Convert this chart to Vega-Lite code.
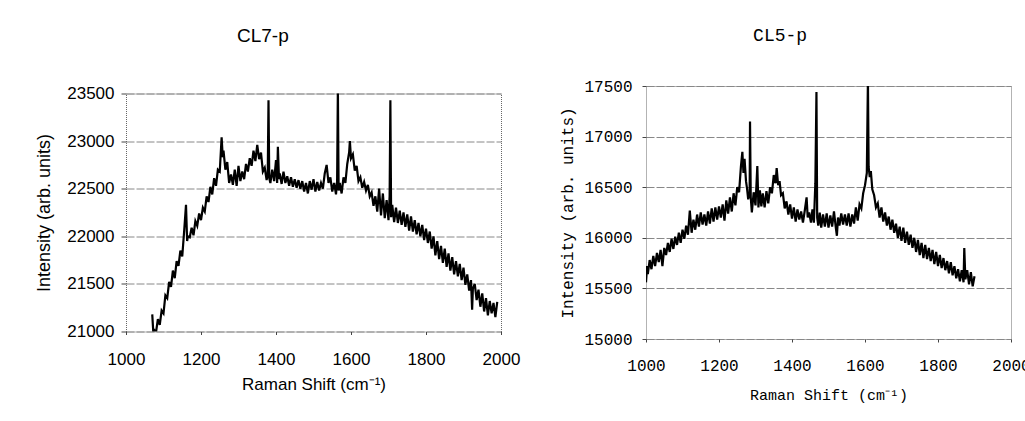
{
"$schema": "https://vega.github.io/schema/vega-lite/v6.json",
"background": "white",
"padding": {"left": 35, "top": 26, "right": 0, "bottom": 0},
"autosize": {"type": "pad"},
"columns": 2,
"align": "each",
"bounds": "flush",
"center": true,
"spacing": 145,
"config": {"view": {"stroke": "#666", "strokeDash": [1, 1], "strokeWidth": 1}},
"datasets": {
"L": [{"x":1070,"y":21180},{"x":1073,"y":20980},{"x":1076,"y":21010},{"x":1080,"y":20990},{"x":1085,"y":21130},{"x":1090,"y":21070},{"x":1095,"y":21220},{"x":1100,"y":21190},{"x":1105,"y":21380},{"x":1110,"y":21350},{"x":1115,"y":21520},{"x":1120,"y":21470},{"x":1125,"y":21640},{"x":1130,"y":21560},{"x":1135,"y":21740},{"x":1140,"y":21690},{"x":1145,"y":21850},{"x":1150,"y":21790},{"x":1155,"y":22050},{"x":1160,"y":22330},{"x":1163,"y":21950},{"x":1165,"y":22000},{"x":1170,"y":21990},{"x":1175,"y":22090},{"x":1180,"y":22010},{"x":1185,"y":22160},{"x":1190,"y":22110},{"x":1195,"y":22240},{"x":1200,"y":22170},{"x":1205,"y":22300},{"x":1210,"y":22260},{"x":1215,"y":22420},{"x":1220,"y":22360},{"x":1225,"y":22520},{"x":1230,"y":22440},{"x":1235,"y":22610},{"x":1240,"y":22530},{"x":1245,"y":22700},{"x":1250,"y":22680},{"x":1255,"y":23040},{"x":1258,"y":22830},{"x":1260,"y":22900},{"x":1265,"y":22700},{"x":1270,"y":22780},{"x":1275,"y":22560},{"x":1280,"y":22650},{"x":1285,"y":22540},{"x":1290,"y":22700},{"x":1295,"y":22530},{"x":1300,"y":22740},{"x":1305,"y":22580},{"x":1310,"y":22680},{"x":1315,"y":22600},{"x":1320,"y":22760},{"x":1325,"y":22680},{"x":1330,"y":22820},{"x":1335,"y":22740},{"x":1340,"y":22900},{"x":1345,"y":22790},{"x":1350,"y":22960},{"x":1355,"y":22810},{"x":1360,"y":22880},{"x":1365,"y":22680},{"x":1370,"y":22720},{"x":1375,"y":22590},{"x":1378,"y":22660},{"x":1380,"y":23430},{"x":1382,"y":22610},{"x":1385,"y":22560},{"x":1390,"y":22700},{"x":1395,"y":22580},{"x":1400,"y":22800},{"x":1403,"y":22560},{"x":1405,"y":22940},{"x":1408,"y":22600},{"x":1410,"y":22660},{"x":1415,"y":22550},{"x":1420,"y":22680},{"x":1425,"y":22560},{"x":1430,"y":22630},{"x":1435,"y":22530},{"x":1440,"y":22620},{"x":1445,"y":22520},{"x":1450,"y":22600},{"x":1455,"y":22510},{"x":1460,"y":22590},{"x":1465,"y":22500},{"x":1470,"y":22580},{"x":1475,"y":22470},{"x":1480,"y":22560},{"x":1485,"y":22450},{"x":1490,"y":22580},{"x":1495,"y":22490},{"x":1500,"y":22600},{"x":1505,"y":22470},{"x":1510,"y":22570},{"x":1515,"y":22480},{"x":1520,"y":22560},{"x":1525,"y":22500},{"x":1530,"y":22660},{"x":1535,"y":22750},{"x":1540,"y":22560},{"x":1545,"y":22620},{"x":1550,"y":22470},{"x":1555,"y":22560},{"x":1560,"y":22440},{"x":1563,"y":22580},{"x":1565,"y":23560},{"x":1567,"y":22480},{"x":1570,"y":22560},{"x":1575,"y":22450},{"x":1580,"y":22620},{"x":1585,"y":22560},{"x":1590,"y":22760},{"x":1595,"y":22880},{"x":1597,"y":23000},{"x":1600,"y":22820},{"x":1605,"y":22860},{"x":1610,"y":22690},{"x":1615,"y":22740},{"x":1620,"y":22580},{"x":1625,"y":22620},{"x":1630,"y":22510},{"x":1635,"y":22570},{"x":1640,"y":22480},{"x":1645,"y":22540},{"x":1650,"y":22420},{"x":1655,"y":22460},{"x":1660,"y":22320},{"x":1665,"y":22420},{"x":1670,"y":22260},{"x":1675,"y":22500},{"x":1680,"y":22220},{"x":1685,"y":22450},{"x":1690,"y":22190},{"x":1695,"y":22380},{"x":1700,"y":22170},{"x":1703,"y":22420},{"x":1705,"y":23430},{"x":1707,"y":22200},{"x":1710,"y":22330},{"x":1715,"y":22150},{"x":1720,"y":22300},{"x":1725,"y":22140},{"x":1730,"y":22270},{"x":1735,"y":22120},{"x":1740,"y":22250},{"x":1745,"y":22100},{"x":1750,"y":22230},{"x":1755,"y":22060},{"x":1760,"y":22210},{"x":1765,"y":22050},{"x":1770,"y":22170},{"x":1775,"y":22020},{"x":1780,"y":22140},{"x":1785,"y":22000},{"x":1790,"y":22120},{"x":1795,"y":21960},{"x":1800,"y":22080},{"x":1805,"y":21930},{"x":1810,"y":22050},{"x":1815,"y":21870},{"x":1820,"y":22000},{"x":1825,"y":21800},{"x":1830,"y":21950},{"x":1835,"y":21760},{"x":1840,"y":21900},{"x":1845,"y":21720},{"x":1850,"y":21870},{"x":1855,"y":21680},{"x":1860,"y":21820},{"x":1865,"y":21640},{"x":1870,"y":21780},{"x":1875,"y":21600},{"x":1880,"y":21740},{"x":1885,"y":21580},{"x":1890,"y":21710},{"x":1895,"y":21540},{"x":1900,"y":21670},{"x":1905,"y":21490},{"x":1910,"y":21600},{"x":1915,"y":21430},{"x":1920,"y":21540},{"x":1923,"y":21230},{"x":1925,"y":21450},{"x":1930,"y":21500},{"x":1935,"y":21330},{"x":1940,"y":21440},{"x":1945,"y":21260},{"x":1950,"y":21400},{"x":1955,"y":21210},{"x":1960,"y":21350},{"x":1965,"y":21170},{"x":1970,"y":21320},{"x":1975,"y":21190},{"x":1980,"y":21300},{"x":1985,"y":21150},{"x":1990,"y":21310}],
"R": [{"x":1000,"y":15560},{"x":1003,"y":15720},{"x":1005,"y":15640},{"x":1010,"y":15780},{"x":1015,"y":15690},{"x":1020,"y":15820},{"x":1025,"y":15720},{"x":1030,"y":15850},{"x":1035,"y":15760},{"x":1040,"y":15880},{"x":1045,"y":15720},{"x":1050,"y":15900},{"x":1055,"y":15830},{"x":1060,"y":15950},{"x":1065,"y":15860},{"x":1070,"y":15990},{"x":1075,"y":15890},{"x":1080,"y":16010},{"x":1085,"y":15930},{"x":1090,"y":16050},{"x":1095,"y":15950},{"x":1100,"y":16080},{"x":1105,"y":15990},{"x":1110,"y":16120},{"x":1115,"y":16030},{"x":1120,"y":16270},{"x":1125,"y":16050},{"x":1130,"y":16180},{"x":1135,"y":16080},{"x":1140,"y":16230},{"x":1145,"y":16110},{"x":1150,"y":16250},{"x":1155,"y":16130},{"x":1160,"y":16230},{"x":1165,"y":16120},{"x":1170,"y":16260},{"x":1175,"y":16140},{"x":1180,"y":16290},{"x":1185,"y":16160},{"x":1190,"y":16300},{"x":1195,"y":16180},{"x":1200,"y":16310},{"x":1205,"y":16200},{"x":1210,"y":16330},{"x":1215,"y":16170},{"x":1220,"y":16370},{"x":1225,"y":16240},{"x":1230,"y":16400},{"x":1235,"y":16260},{"x":1240,"y":16440},{"x":1245,"y":16320},{"x":1250,"y":16500},{"x":1255,"y":16450},{"x":1260,"y":16700},{"x":1264,"y":16850},{"x":1267,"y":16640},{"x":1270,"y":16780},{"x":1274,"y":16560},{"x":1277,"y":16480},{"x":1280,"y":16380},{"x":1284,"y":16440},{"x":1285,"y":17150},{"x":1287,"y":16400},{"x":1290,"y":16250},{"x":1295,"y":16450},{"x":1300,"y":16320},{"x":1305,"y":16710},{"x":1308,"y":16300},{"x":1312,"y":16470},{"x":1316,"y":16310},{"x":1320,"y":16440},{"x":1325,"y":16300},{"x":1330,"y":16460},{"x":1335,"y":16340},{"x":1340,"y":16500},{"x":1345,"y":16440},{"x":1350,"y":16620},{"x":1355,"y":16540},{"x":1358,"y":16690},{"x":1362,"y":16520},{"x":1366,"y":16560},{"x":1370,"y":16420},{"x":1375,"y":16440},{"x":1380,"y":16290},{"x":1385,"y":16360},{"x":1390,"y":16230},{"x":1395,"y":16330},{"x":1400,"y":16190},{"x":1405,"y":16300},{"x":1410,"y":16160},{"x":1415,"y":16280},{"x":1420,"y":16180},{"x":1425,"y":16260},{"x":1430,"y":16150},{"x":1435,"y":16270},{"x":1440,"y":16400},{"x":1443,"y":16200},{"x":1447,"y":16250},{"x":1452,"y":16150},{"x":1456,"y":16280},{"x":1460,"y":16150},{"x":1464,"y":16540},{"x":1467,"y":17440},{"x":1469,"y":16200},{"x":1472,"y":16120},{"x":1476,"y":16250},{"x":1480,"y":16100},{"x":1485,"y":16230},{"x":1490,"y":16110},{"x":1495,"y":16240},{"x":1500,"y":16100},{"x":1505,"y":16220},{"x":1510,"y":16110},{"x":1515,"y":16260},{"x":1520,"y":16100},{"x":1523,"y":16020},{"x":1526,"y":16200},{"x":1530,"y":16120},{"x":1535,"y":16240},{"x":1540,"y":16130},{"x":1545,"y":16230},{"x":1550,"y":16120},{"x":1555,"y":16240},{"x":1560,"y":16110},{"x":1565,"y":16230},{"x":1570,"y":16140},{"x":1575,"y":16300},{"x":1580,"y":16170},{"x":1585,"y":16330},{"x":1590,"y":16290},{"x":1595,"y":16440},{"x":1600,"y":16520},{"x":1605,"y":16640},{"x":1608,"y":17560},{"x":1610,"y":16700},{"x":1613,"y":16600},{"x":1616,"y":16660},{"x":1620,"y":16480},{"x":1625,"y":16420},{"x":1630,"y":16300},{"x":1635,"y":16340},{"x":1640,"y":16200},{"x":1645,"y":16300},{"x":1650,"y":16160},{"x":1655,"y":16250},{"x":1660,"y":16120},{"x":1665,"y":16210},{"x":1670,"y":16080},{"x":1675,"y":16180},{"x":1680,"y":16050},{"x":1685,"y":16140},{"x":1690,"y":16000},{"x":1695,"y":16110},{"x":1700,"y":15970},{"x":1705,"y":16100},{"x":1710,"y":15950},{"x":1715,"y":16060},{"x":1720,"y":15930},{"x":1725,"y":16030},{"x":1730,"y":15900},{"x":1735,"y":16000},{"x":1740,"y":15860},{"x":1745,"y":15980},{"x":1750,"y":15830},{"x":1755,"y":15950},{"x":1760,"y":15800},{"x":1765,"y":15930},{"x":1770,"y":15790},{"x":1775,"y":15900},{"x":1780,"y":15770},{"x":1785,"y":15880},{"x":1790,"y":15740},{"x":1795,"y":15860},{"x":1800,"y":15720},{"x":1805,"y":15830},{"x":1810,"y":15700},{"x":1815,"y":15800},{"x":1820,"y":15680},{"x":1825,"y":15770},{"x":1830,"y":15650},{"x":1835,"y":15760},{"x":1840,"y":15630},{"x":1845,"y":15720},{"x":1850,"y":15600},{"x":1855,"y":15690},{"x":1860,"y":15570},{"x":1865,"y":15680},{"x":1870,"y":15560},{"x":1872,"y":15900},{"x":1875,"y":15590},{"x":1880,"y":15680},{"x":1885,"y":15540},{"x":1890,"y":15660},{"x":1895,"y":15520},{"x":1900,"y":15620}]
},
"concat": [
{
"width": 375, "height": 238,
"title": {"text": "CL7-p", "font": "Liberation Sans", "fontSize": 19, "fontWeight": "normal", "color": "black", "anchor": "middle", "frame": "bounds", "dx": -15, "offset": 39},
"data": {"name": "L"},
"mark": {"type": "line", "color": "black", "strokeWidth": 2.2, "clip": true},
"encoding": {
"x": {"field": "x", "type": "quantitative", "scale": {"domain": [1000, 2000], "nice": false, "zero": false},
"axis": {"values": [1000, 1200, 1400, 1600, 1800, 2000], "format": "d", "grid": false, "domain": false, "tickSize": 3, "tickColor": "#444", "labelFont": "Liberation Sans", "labelFontSize": 17, "labelColor": "black", "labelPadding": 17, "labelFlush": false, "title": "Raman Shift (cm⁻¹)", "titleFont": "Liberation Sans", "titleFontSize": 17, "titleFontWeight": "normal", "titleColor": "black", "titlePadding": 9}},
"y": {"field": "y", "type": "quantitative", "scale": {"domain": [21000, 23500], "nice": false, "zero": false},
"axis": {"values": [21000, 21500, 22000, 22500, 23000, 23500], "format": "d", "grid": true, "gridColor": "#888", "gridDash": [8, 2], "domain": false, "tickSize": 5, "tickColor": "#444", "labelFont": "Liberation Sans", "labelFontSize": 17, "labelColor": "black", "labelPadding": 7, "labelFlush": false, "title": "Intensity (arb. units)", "titleFont": "Liberation Sans", "titleFontSize": 18, "titleFontWeight": "normal", "titleColor": "black", "titlePadding": 13}}
}
},
{
"width": 365, "height": 253,
"title": {"text": "CL5-p", "font": "Liberation Mono", "fontSize": 18, "fontWeight": "normal", "color": "black", "anchor": "middle", "frame": "bounds", "dx": -15, "offset": 33},
"data": {"name": "R"},
"mark": {"type": "line", "color": "black", "strokeWidth": 2.2, "clip": true},
"encoding": {
"x": {"field": "x", "type": "quantitative", "scale": {"domain": [1000, 2000], "nice": false, "zero": false},
"axis": {"values": [1000, 1200, 1400, 1600, 1800, 2000], "format": "d", "grid": false, "domain": false, "tickSize": 3, "tickColor": "#444", "labelFont": "Liberation Mono", "labelFontSize": 16, "labelColor": "black", "labelPadding": 15, "labelFlush": false, "title": "Raman Shift (cm⁻¹)", "titleFont": "Liberation Mono", "titleFontSize": 15, "titleFontWeight": "normal", "titleColor": "black", "titlePadding": 14}},
"y": {"field": "y", "type": "quantitative", "scale": {"domain": [15000, 17500], "nice": false, "zero": false},
"axis": {"values": [15000, 15500, 16000, 16500, 17000, 17500], "format": "d", "grid": true, "gridColor": "#888", "gridDash": [8, 2], "domain": false, "tickSize": 4, "tickColor": "#444", "labelFont": "Liberation Mono", "labelFontSize": 16, "labelColor": "black", "labelPadding": 10, "labelFlush": false, "title": "Intensity (arb. units)", "titleFont": "Liberation Mono", "titleFontSize": 16, "titleFontWeight": "normal", "titleColor": "black", "titlePadding": 8}}
}
}
]
}
